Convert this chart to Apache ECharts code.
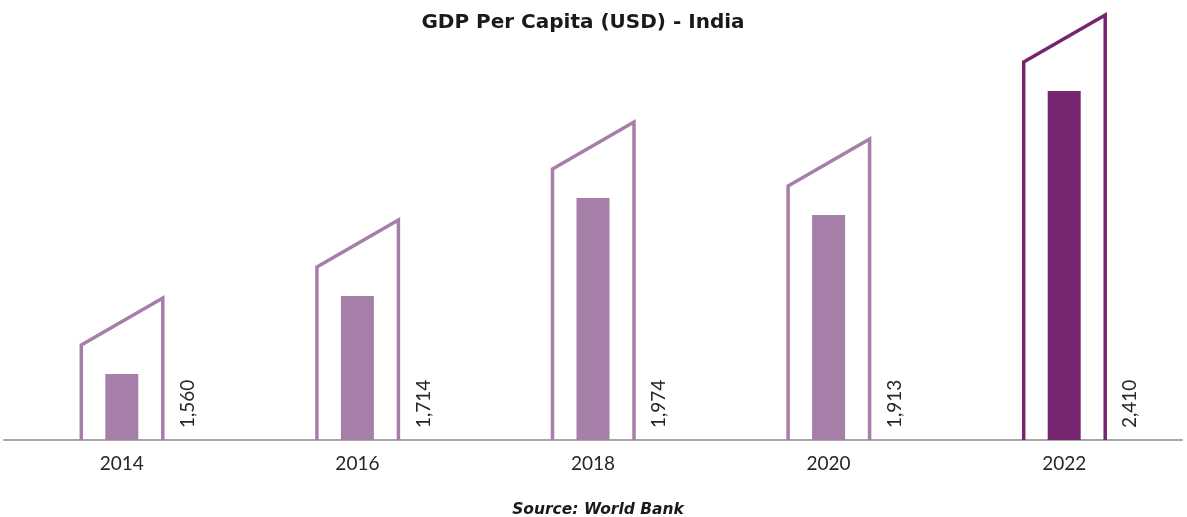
<!DOCTYPE html>
<html>
<head>
<meta charset="utf-8">
<script src="https://cdn.jsdelivr.net/npm/echarts@6/dist/echarts.min.js"></script>
<style>
  html, body { margin: 0; padding: 0; background: #fff; }
  #main { width: 1187px; height: 517px; }
</style>
</head>
<body>
<div id="main"></div>
<script>
// chart data
var years = ['2014', '2016', '2018', '2020', '2022'];
var gdpPerCapita = [1560, 1714, 1974, 1913, 2410];
// drawn bar heights as they appear in the picture (not to value scale)
var barLevels = [66, 144, 242, 225, 349];

var lightPurple = '#A67FA8';
var darkPurple = '#76266F';

function colorOf(i) {
  return i === years.length - 1 ? darkPurple : lightPurple;
}

var myChart = echarts.init(document.getElementById('main'));

var outlineData = years.map(function (y, i) {
  return [i, barLevels[i], gdpPerCapita[i]];
});

function renderOutline(params, api) {
  var i = api.value(0);
  var top = api.coord([i, api.value(1)]);
  var base = api.coord([i, 0]);
  var cx = top[0];
  var color = colorOf(i);
  var pts = [
    [cx - 40.5, base[1]],
    [cx - 40.5, top[1] - 29],
    [cx + 41, top[1] - 76],
    [cx + 41, base[1]]
  ];
  return {
    type: 'group',
    children: [{
      type: 'polyline',
      shape: { points: pts },
      style: { stroke: color, fill: null, lineWidth: 3.5, lineJoin: 'miter' }
    }, {
      type: 'text',
      x: cx + 66,
      y: base[1] - 12,
      rotation: Math.PI / 2,
      style: {
        text: echarts.format.addCommas(api.value(2)),
        textAlign: 'left',
        textVerticalAlign: 'middle',
        fill: '#262626',
        font: '19px Lato, sans-serif'
      }
    }]
  };
}

var option = {
  animation: false,
  title: [{
    text: 'GDP Per Capita (USD) - India',
    left: 578,
    top: 8,
    textAlign: 'center',
    textStyle: { fontFamily: 'DejaVu Sans', fontWeight: 'bold', fontSize: 20, color: '#1a1a1a' }
  }, {
    text: 'Source: World Bank',
    left: 593,
    top: 497,
    textAlign: 'center',
    textStyle: { fontFamily: 'DejaVu Sans', fontWeight: 'bold', fontStyle: 'italic', fontSize: 15.5, color: '#1a1a1a' }
  }],
  grid: { left: 4, right: 5, top: 40, bottom: 77 },
  xAxis: {
    type: 'category',
    data: years,
    axisLine: { lineStyle: { color: '#A6A6A6', width: 2 } },
    axisTick: { show: false },
    axisLabel: { margin: 14, fontSize: 19, fontFamily: 'Lato', color: '#262626' }
  },
  yAxis: {
    type: 'value',
    min: 0,
    max: 400,
    show: false
  },
  series: [{
    type: 'bar',
    data: barLevels.map(function (v, i) {
      return { value: v, itemStyle: { color: colorOf(i) } };
    }),
    barWidth: 33
  }, {
    type: 'custom',
    data: outlineData,
    encode: { x: 0, y: 1 },
    renderItem: renderOutline
  }]
};

myChart.setOption(option);
</script>
</body>
</html>
